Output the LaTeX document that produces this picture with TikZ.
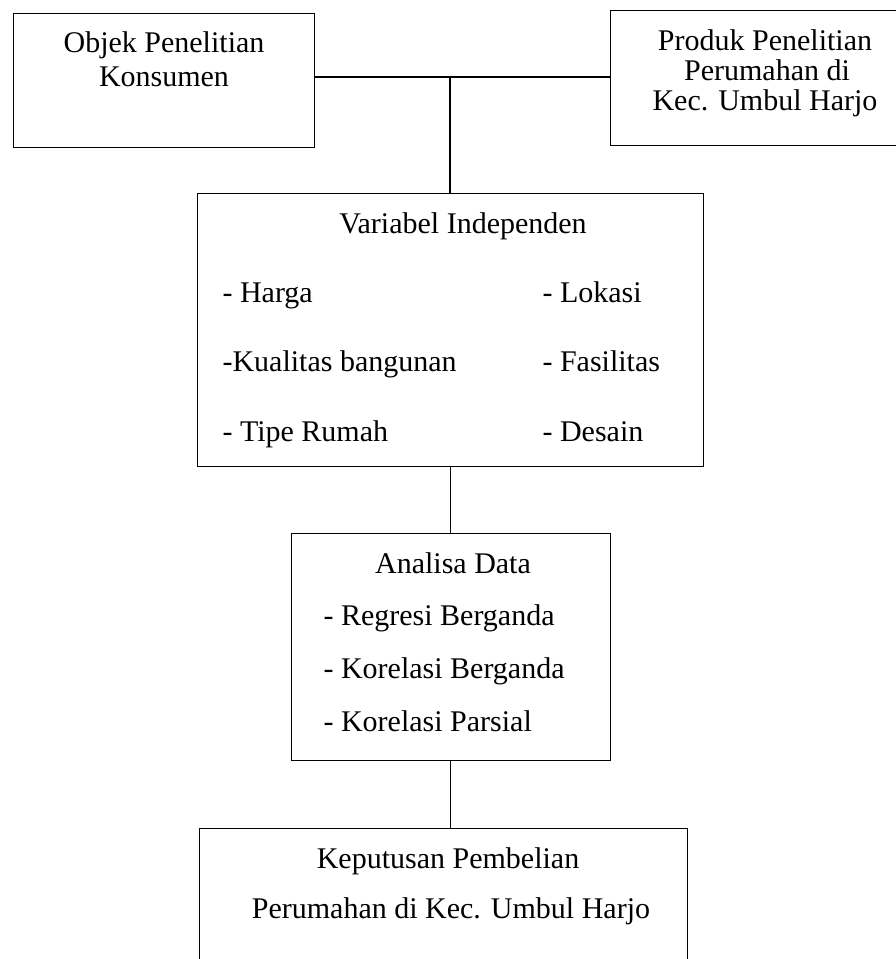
\documentclass[tikz,border=0pt]{standalone}
\usepackage{fontspec}
\setmainfont{Liberation Serif}
\usetikzlibrary{positioning}

\begin{document}
\begin{tikzpicture}[x=1pt, y=-1pt, line width=1.1pt,
    main/.style={draw, rectangle, anchor=north west, inner sep=0pt},
    txt/.style={inner sep=0pt, anchor=base, font=\fontsize{30}{30}\selectfont},
    item/.style={txt, anchor=base west}]
        \useasboundingbox (0,0) rectangle (896,959);
        % kotak
        \node[main, minimum width=301pt, minimum height=134pt] (1) at (13,13) {};
        \node[main, minimum width=310pt, minimum height=135pt] (2) at (610,10) {};
        \node[main, minimum width=506pt, minimum height=273pt] (3) at (197,193) {};
        \node[main, minimum width=319pt, minimum height=227pt] (4) at (291,533) {};
        \node[main, minimum width=488pt, minimum height=150pt] (5) at (199,828) {};
        % teks
        \node[txt] (1a) at (164,52) {Objek Penelitian};
        \node[txt] (1b) at (164,86) {Konsumen};
        \node[txt] (2a) at (765,50) {Produk Penelitian};
        \node[txt] (2b) at (767,80) {Perumahan di};
        \node[txt] (2c) at (765,110) {Kec. Umbul Harjo};
        \node[txt] (3a) at (463,233) {Variabel Independen};
        \node[item] (3b) at (222,302) {- Harga};
        \node[item] (3c) at (222,371) {-Kualitas bangunan};
        \node[item] (3d) at (222,441) {- Tipe Rumah};
        \node[item] (3e) at (542,302) {- Lokasi};
        \node[item] (3f) at (542,371) {- Fasilitas};
        \node[item] (3g) at (542,441) {- Desain};
        \node[txt] (4a) at (453,573) {Analisa Data};
        \node[item] (4b) at (323,625) {- Regresi Berganda};
        \node[item] (4c) at (323,678) {- Korelasi Berganda};
        \node[item] (4d) at (323,731) {- Korelasi Parsial};
        \node[txt] (5a) at (448,868) {Keputusan Pembelian};
        \node[txt] (5b) at (451,918) {Perumahan di Kec. Umbul Harjo};
        % garis
        \coordinate (c) at (450,77);
        \draw (1.east |- c) -- (2.west |- c);
        \draw (c) -- (3.north -| c);
        \draw (3.south) -- (4.north -| 3.south);
        \draw (4.south -| 3.south) -- (5.north -| 3.south);
    \end{tikzpicture}
\end{document}
